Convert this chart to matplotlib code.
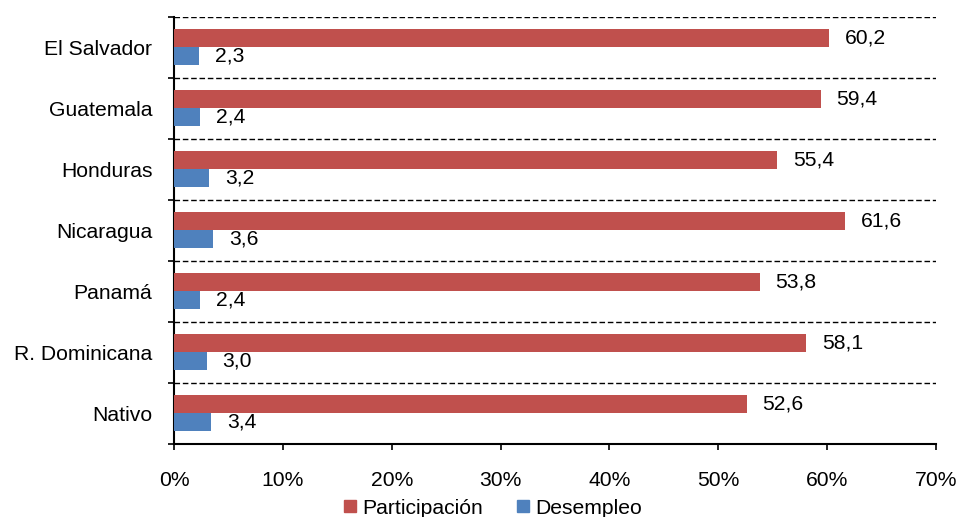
import matplotlib
matplotlib.use("Agg")
import matplotlib.pyplot as plt
from matplotlib.patches import Patch
from matplotlib.ticker import FuncFormatter, FixedLocator
import numpy as np

plt.rcParams['font.family'] = ['Liberation Sans', 'DejaVu Sans']
plt.rcParams['lines.scale_dashes'] = False

categories = ["El Salvador", "Guatemala", "Honduras", "Nicaragua",
              "Panamá", "R. Dominicana", "Nativo"]
participacion = [60.2, 59.4, 55.4, 61.6, 53.8, 58.1, 52.6]
desempleo = [2.3, 2.4, 3.2, 3.6, 2.4, 3.0, 3.4]
series_names = ["Participación", "Desempleo"]
x_ticks = [0, 10, 20, 30, 40, 50, 60, 70]

red = "#C0504D"
blue = "#4F81BD"
fs = 15.2

fig = plt.figure(figsize=(9.59, 5.17), dpi=100)
ax = fig.add_axes([174 / 959, 1 - 443.5 / 517, (936 - 174) / 959, (443.5 - 16.5) / 517])

y = np.arange(len(categories))
h = 0.287
ax.barh(y - h / 2, participacion, height=h, color=red, zorder=3)
ax.barh(y + h / 2, desempleo, height=h, color=blue, zorder=3)

for yi, v in zip(y, participacion):
    ax.annotate(f"{v:.1f}".replace(".", ","), (v, yi - h / 2), xytext=(16, 0),
                textcoords="offset pixels", va="center", ha="left", fontsize=fs)
for yi, v in zip(y, desempleo):
    ax.annotate(f"{v:.1f}".replace(".", ","), (v, yi + h / 2), xytext=(16, 0),
                textcoords="offset pixels", va="center", ha="left", fontsize=fs)

ax.set_xlim(0, 70)
ax.set_ylim(len(categories) - 0.5, -0.5)

# dashed separators between categories
for b in np.arange(-0.5, len(categories) - 0.5, 1.0):
    ax.axhline(b, color="black", lw=1.0, ls=(0, (4, 2)), zorder=2)

ax.set_yticks(y)
ax.set_yticklabels(categories, fontsize=fs)
ax.tick_params(axis="y", which="major", length=0, pad=15.5)
ax.yaxis.set_minor_locator(FixedLocator(np.arange(-0.5, len(categories), 1.0)))
ax.tick_params(axis="y", which="minor", length=4.5, width=1.2, direction="out")

ax.set_xticks(x_ticks)
ax.xaxis.set_major_formatter(FuncFormatter(lambda v, p: f"{int(v)}%"))
ax.tick_params(axis="x", length=4.5, width=1.2, direction="out", labelsize=fs, pad=15)

for s in ["top", "right"]:
    ax.spines[s].set_visible(False)
for s in ["left", "bottom"]:
    ax.spines[s].set_linewidth(1.5)

handles = [Patch(color=red, label=series_names[0]), Patch(color=blue, label=series_names[1])]
fig.legend(handles=handles, loc="center", bbox_to_anchor=(493 / 959, 1 - 508 / 517),
           ncol=2, frameon=False, fontsize=fs, handlelength=0.55, handleheight=0.55,
           handletextpad=0.3, columnspacing=1.6, borderpad=0)

fig.savefig("out.png", dpi=100)
